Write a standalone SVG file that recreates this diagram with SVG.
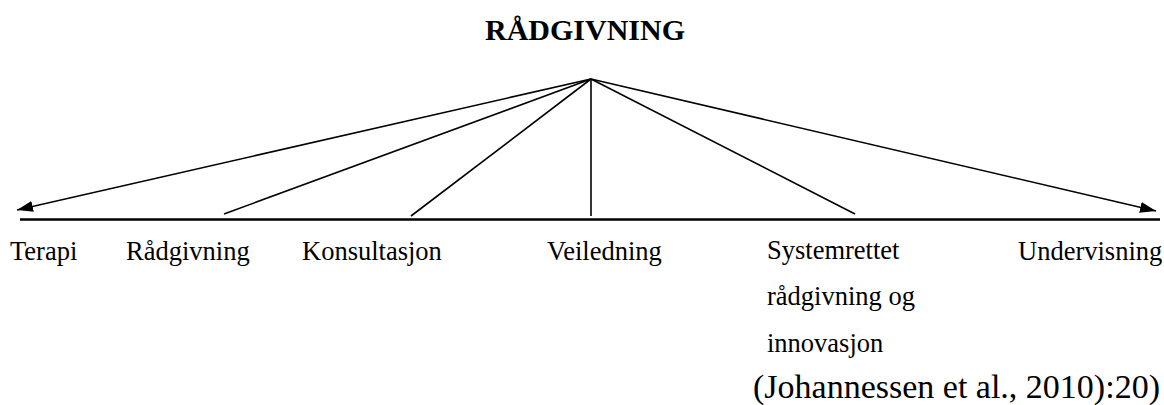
<svg xmlns="http://www.w3.org/2000/svg" width="1164" height="405" viewBox="0 0 1164 405">
<style>
text{font-family:"Liberation Serif","Times New Roman",serif;font-size:26.5px;fill:#000}
.title{font-weight:bold;font-size:30px}
.cite{font-size:34px}
line{stroke:#000;stroke-width:1.6}
</style>
<defs>
<marker id="ah" viewBox="0 0 16 11" refX="16" refY="5.5" markerWidth="16" markerHeight="11" markerUnits="userSpaceOnUse" orient="auto">
<path d="M0,0 L16,5.5 L0,11 z" fill="#000"/>
</marker>
</defs>
<rect width="1164" height="405" fill="#fff"/>
<g id="title"><text class="title" x="585" y="40" text-anchor="middle">RÅDGIVNING</text></g>
<g id="connectors">
<line x1="20" y1="219.5" x2="1160" y2="219.5" style="stroke-width:2.6"/>
<line x1="591" y1="79" x2="17" y2="210" marker-end="url(#ah)"/>
<line x1="591" y1="79" x2="1156" y2="211" marker-end="url(#ah)"/>
<line x1="591" y1="79" x2="224" y2="214"/>
<line x1="591" y1="79" x2="411" y2="216"/>
<line x1="591" y1="79" x2="591" y2="216"/>
<line x1="591" y1="79" x2="855" y2="214"/>
</g>
<g id="terapi"><text x="10" y="260">Terapi</text></g>
<g id="radgivning"><text x="126" y="260">Rådgivning</text></g>
<g id="konsultasjon"><text x="302" y="260">Konsultasjon</text></g>
<g id="veiledning"><text x="547" y="260">Veiledning</text></g>
<g id="systemrettet"><text x="767" y="259">Systemrettet</text><text x="767" y="305">rådgivning og</text><text x="767" y="352">innovasjon</text></g>
<g id="undervisning"><text x="1018" y="260">Undervisning</text></g>
<g id="citation"><text class="cite" x="753" y="398">(Johannessen et al., 2010):20)</text></g>
</svg>
